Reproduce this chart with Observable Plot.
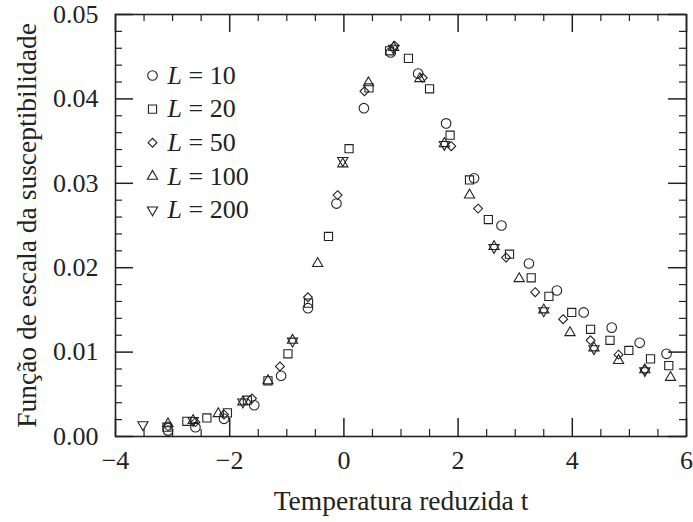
<!DOCTYPE html>
<html><head><meta charset="utf-8">
<script src="https://cdn.jsdelivr.net/npm/d3@7"></script>
<script src="https://cdn.jsdelivr.net/npm/@observablehq/plot@0.6"></script>
<style>
body{margin:0;background:#fff}
#chart svg{font-family:"Liberation Serif","DejaVu Serif",serif}
</style>
</head><body><div id="chart"></div>
<script>
// ---- data ----
const seriesLabels = ["L = 10", "L = 20", "L = 50", "L = 100", "L = 200"];

const t10   = [-3.08,-2.6,-2.1,-1.57,-1.1,-0.63,-0.13,0.35,0.82,1.3,1.79,2.28,2.76,3.24,3.73,4.2,4.69,5.18,5.65];
const chi10 = [0.0007,0.0011,0.0021,0.0037,0.0072,0.0152,0.0276,0.0389,0.0455,0.0430,0.0371,0.0306,0.0250,0.0205,0.0173,0.0147,0.0129,0.0111,0.0098];

const t20   = [-3.1,-2.75,-2.4,-2.04,-1.69,-1.33,-0.98,-0.62,-0.27,0.09,0.44,0.8,1.13,1.5,1.86,2.2,2.53,2.9,3.28,3.59,3.99,4.32,4.66,4.99,5.37,5.69];
const chi20 = [0.0011,0.0018,0.0022,0.0028,0.0043,0.0066,0.0098,0.0158,0.0237,0.0341,0.0413,0.0457,0.0448,0.0412,0.0357,0.0304,0.0257,0.0216,0.0188,0.0166,0.0147,0.0127,0.0114,0.0102,0.0092,0.0084];

const t50   = [-3.08,-2.6,-2.1,-1.61,-1.12,-0.63,-0.11,0.36,0.89,1.38,1.88,2.35,2.84,3.35,3.84,4.32,4.81,5.27];
const chi50 = [0.0012,0.0017,0.0026,0.0045,0.0083,0.0165,0.0286,0.0409,0.0463,0.0425,0.0344,0.0270,0.0212,0.0171,0.0139,0.0114,0.0097,0.0079];

const t100   = [-3.08,-2.64,-2.2,-1.77,-1.33,-0.9,-0.46,-0.02,0.43,0.87,1.33,1.76,2.2,2.63,3.07,3.5,3.96,4.38,4.81,5.27,5.72];
const chi100 = [0.0015,0.0019,0.0027,0.0041,0.0066,0.0114,0.0205,0.0323,0.0419,0.0461,0.0424,0.0347,0.0286,0.0225,0.0187,0.0150,0.0123,0.0105,0.0090,0.0079,0.0070];

const t200   = [-3.52,-2.64,-1.77,-0.9,-0.02,0.87,1.76,2.63,3.5,4.38,5.27];
const chi200 = [0.0014,0.0019,0.0041,0.0113,0.0327,0.0460,0.0346,0.0224,0.0149,0.0104,0.0078];

const xTickLabels = [-4, -2, 0, 2, 4, 6];
const yTickLabels = [0, 0.01, 0.02, 0.03, 0.04, 0.05];
const xTitle = "Temperatura reduzida t";
const yTitle = "Função de escala da susceptibilidade";

// ---- styling ----
const W = 693, H = 522;
const mL = 115, mR = 7, mT = 14, mB = 86;
const innerW = W - mL - mR, innerH = H - mT - mB;
const ink = "#222";
const FS = 26;      // tick labels & legend
const TFS = 27.5;   // axis titles

const styles = [
  {symbol: "circle",   r: 4.8, rotate: 0},
  {symbol: "square",   r: 4.6, rotate: 0},
  {symbol: "diamond2", r: 4.0, rotate: 0},
  {symbol: "triangle", r: 3.8, rotate: 0},
  {symbol: "triangle", r: 3.8, rotate: 180}
];
const seriesT = [t10, t20, t50, t100, t200];
const seriesChi = [chi10, chi20, chi50, chi100, chi200];
const seriesData = seriesT.map((ts, i) => ts.map((t, j) => ({t, chi: seriesChi[i][j]})));

const xMajor = d3.range(-4, 6.001, 2);
const xMinor = d3.range(-4, 6.001, 0.5).filter(v => Math.abs(v / 2 - Math.round(v / 2)) > 1e-6);
const yMajor = d3.range(0, 0.05001, 0.01);
const yMinor = d3.range(0, 0.05001, 0.002).filter(v => Math.abs(v / 0.01 - Math.round(v / 0.01)) > 1e-6);

const majLen = 18, minLen = 7;

const marks = [
  // inward ticks on all four sides
  Plot.tickX(xMajor, {x: d => d, insetTop: innerH - majLen, stroke: ink, strokeWidth: 1.5}),
  Plot.tickX(xMinor, {x: d => d, insetTop: innerH - minLen, stroke: ink, strokeWidth: 1.2}),
  Plot.tickX(xMajor, {x: d => d, insetBottom: innerH - majLen, stroke: ink, strokeWidth: 1.5}),
  Plot.tickX(xMinor, {x: d => d, insetBottom: innerH - minLen, stroke: ink, strokeWidth: 1.2}),
  Plot.tickY(yMajor, {y: d => d, insetRight: innerW - majLen, stroke: ink, strokeWidth: 1.5}),
  Plot.tickY(yMinor, {y: d => d, insetRight: innerW - minLen, stroke: ink, strokeWidth: 1.2}),
  Plot.tickY(yMajor, {y: d => d, insetLeft: innerW - majLen, stroke: ink, strokeWidth: 1.5}),
  Plot.tickY(yMinor, {y: d => d, insetLeft: innerW - minLen, stroke: ink, strokeWidth: 1.2}),
  Plot.frame({stroke: ink, strokeWidth: 1.6}),
  Plot.axisX({ticks: xTickLabels, tickSize: 0, tickPadding: 14, label: null, fontSize: FS}),
  Plot.axisY({ticks: yTickLabels, tickSize: 0, tickPadding: 17, tickFormat: d3.format(".2f"), label: null, fontSize: FS}),
  Plot.text([xTitle], {frameAnchor: "bottom", dy: 65, textAnchor: "middle", lineAnchor: "middle", fontSize: TFS, fill: ink}),
  Plot.text([yTitle], {frameAnchor: "left", dx: -88, rotate: -90, textAnchor: "middle", lineAnchor: "middle", fontSize: TFS, fill: ink})
];

seriesData.forEach((data, i) => {
  const s = styles[i];
  marks.push(Plot.dot(data, {x: "t", y: "chi", symbol: s.symbol, r: s.r, rotate: s.rotate,
    stroke: ink, strokeWidth: 1.1, fill: "none"}));
  // legend entry
  marks.push(Plot.dot([seriesLabels[i]], {frameAnchor: "top-left", dx: 37, dy: 61 + i * 33.6,
    symbol: s.symbol, r: s.r, rotate: s.rotate, stroke: ink, strokeWidth: 1.1, fill: "none"}));
  marks.push(Plot.text([seriesLabels[i]], {frameAnchor: "top-left", dx: 52, dy: 61 + i * 33.6,
    text: d => d, textAnchor: "start", lineAnchor: "middle", fontSize: FS, fill: ink, className: "legend-text"}));
});

const chart = Plot.plot({
  width: W, height: H,
  marginLeft: mL, marginRight: mR, marginTop: mT, marginBottom: mB,
  x: {domain: [-4, 6]},
  y: {domain: [0, 0.05]},
  style: {fontFamily: '"Liberation Serif","DejaVu Serif",serif', fontSize: FS + "px", color: ink, background: "#fff", overflow: "visible"},
  marks
});
document.getElementById("chart").appendChild(chart);

// italic "L" in legend labels
d3.select(chart).selectAll("g.legend-text text").each(function() {
  const s = this.textContent;
  const el = d3.select(this);
  el.text("");
  el.append("tspan").attr("font-style", "italic").text(s.slice(0, 1));
  el.append("tspan").text(s.slice(1));
});
</script>
</body></html>
